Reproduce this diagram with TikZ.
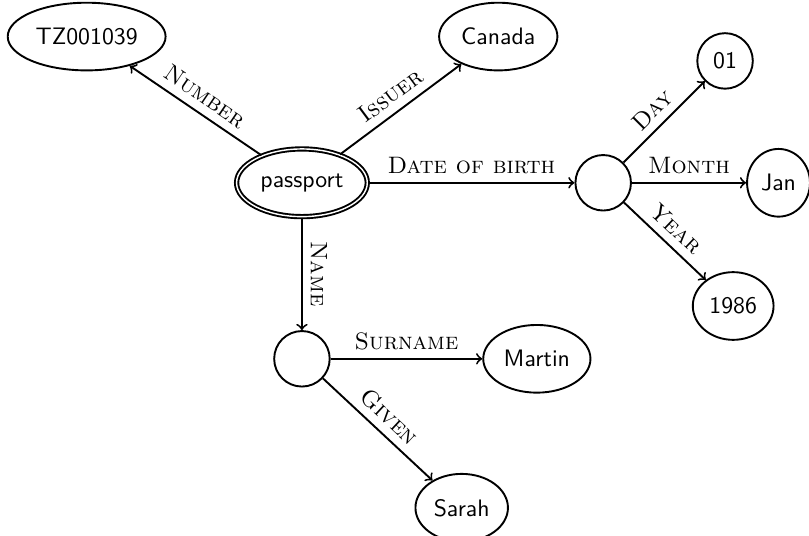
\documentclass[tikz,border=0pt]{standalone}
\usetikzlibrary{shapes.geometric}
\begin{document}
\begin{tikzpicture}[thick,
		value/.style={draw,ellipse,inner xsep=2pt,minimum height=1cm,font=\sffamily},
		blank/.style={draw,circle,minimum size=0.82cm},
		lbl/.style={above,sloped,font=\scshape}]
			\useasboundingbox (-4.46,-5.21) rectangle (7.49,2.70);
			\node [value,double] (passport) at (0,0) {passport};
			\node [value] (number) at (-3.18,2.16) {TZ001039};
			\node [value] (issuer) at (2.90,2.16) {Canada};
			\node [blank] (dob) at (4.45,0) {};
			\node [value,circle,minimum size=0.82cm] (day) at (6.25,1.80) {01};
			\node [value] (month) at (7.04,0) {Jan};
			\node [value] (year) at (6.37,-1.82) {1986};
			\node [blank] (name) at (0,-2.60) {};
			\node [value] (surname) at (3.47,-2.60) {Martin};
			\node [value] (given) at (2.36,-4.80) {Sarah};
			% edges
			\draw [->] (passport) to node[lbl] {Number} (number);
			\draw [->] (passport) to node[lbl] {Issuer} (issuer);
			\draw [->] (passport) to node[lbl] {Date of birth} (dob);
			\draw [->] (passport) to node[lbl] {Name} (name);
			\draw [->] (dob) to node[lbl] {Day} (day);
			\draw [->] (dob) to node[lbl] {Month} (month);
			\draw [->] (dob) to node[lbl] {Year} (year);
			\draw [->] (name) to node[lbl] {Surname} (surname);
			\draw [->] (name) to node[lbl] {Given} (given);
		\end{tikzpicture}
\end{document}
